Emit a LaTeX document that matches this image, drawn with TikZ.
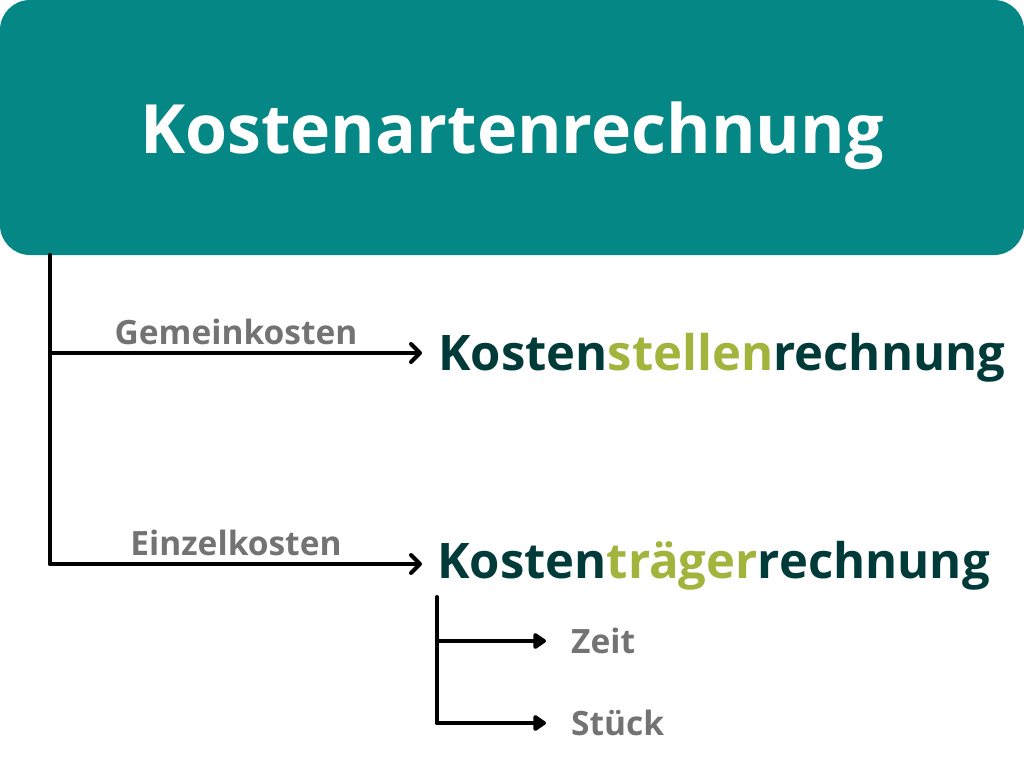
\documentclass[tikz,border=0pt]{standalone}
\usepackage{fontspec}
\setmainfont{Open Sans}[UprightFont=* Bold]
\usetikzlibrary{arrows.meta}
\definecolor{teal1}{RGB}{5,135,133}
\definecolor{darkg}{RGB}{0,59,58}
\definecolor{lime}{RGB}{162,180,60}
\definecolor{grayt}{RGB}{115,115,115}
\begin{document}
\begin{tikzpicture}[x=1pt,y=-1pt,
  main/.style={font=\fontsize{49}{49}\selectfont, text=darkg, anchor=base west, inner sep=0pt},
  lbl/.style={font=\fontsize{33.5}{33.5}\selectfont, text=grayt, inner sep=0pt},
  sub/.style={font=\fontsize{33.5}{33.5}\selectfont, text=grayt, anchor=base west, inner sep=0pt},
  conn/.style={line width=4pt, draw=black, line cap=round, line join=round},
  bigarrow/.style={conn, -{Straight Barb[length=9pt,width=18pt,round]}},
  smallarrow/.style={conn, -{Triangle[length=14pt,width=18pt,round]}}]
\useasboundingbox (0,0) rectangle (1024,768);
\fill[teal1, rounded corners=30pt] (0,0) rectangle (1024,255);
\node[font=\fontsize{68}{68}\selectfont, text=white, anchor=base, inner sep=0pt] (title) at (512,153) {Kostenartenrechnung};
\node[main] (ks) at (438,370) {Kosten\textcolor{lime}{stellen}rechnung};
\node[main] (kt) at (437,578) {Kosten\textcolor{lime}{träger}rechnung};
\node[sub] (zeit) at (571,653) {Zeit};
\node[sub] (stueck) at (571,735) {Stück};
\coordinate (t0) at (50,255);
\coordinate (a1) at (422,353);
\coordinate (a2) at (422,564);
\coordinate (s0) at (437,597);
\coordinate (b1) at (546,641);
\coordinate (b2) at (546,723);
\draw[conn] (t0) -- (50,564);
\draw[bigarrow] (t0 |- a1) -- (a1) node[lbl, pos=0.5, above=6pt] (gk) {Gemeinkosten};
\draw[bigarrow] (t0 |- a2) -- (a2) node[lbl, pos=0.5, above=6pt] (ek) {Einzelkosten};
\draw[conn] (s0) -- (437,723);
\draw[smallarrow] (s0 |- b1) -- (b1);
\draw[smallarrow] (s0 |- b2) -- (b2);
\end{tikzpicture}
\end{document}
